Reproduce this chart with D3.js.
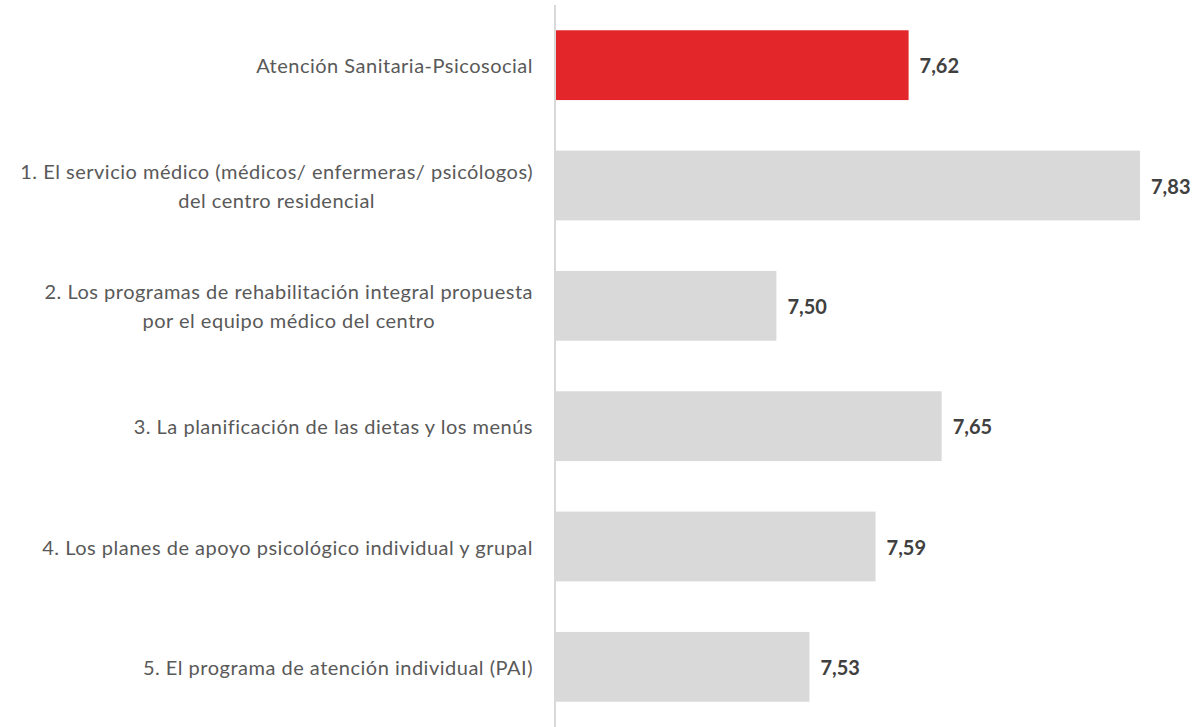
<!DOCTYPE html>
<html>
<head>
<meta charset="utf-8">
<script src="https://cdn.jsdelivr.net/npm/d3@7"></script>
<style>
  html, body { margin: 0; padding: 0; background: #ffffff; }
  svg { display: block; }
</style>
</head>
<body>
<svg id="chart" width="1201" height="727"></svg>
<script>
const categories = [
  ["Atención Sanitaria-Psicosocial"],
  ["1. El servicio médico (médicos/ enfermeras/ psicólogos)", "del centro residencial"],
  ["2. Los programas de rehabilitación integral propuesta", "por el equipo médico del centro"],
  ["3. La planificación de las dietas y los menús"],
  ["4. Los planes de apoyo psicológico individual y grupal"],
  ["5. El programa de atención individual (PAI)"]
];
const values = [7.62, 7.83, 7.50, 7.65, 7.59, 7.53];
const highlight = [true, false, false, false, false, false];
const axisDomain = [7.3, 7.83];

const svg = d3.select("#chart");
const x0 = 556, x1 = 1140;
const labelRight = 533;

const x = d3.scaleLinear().domain(axisDomain).range([x0, x1]);
const y = d3.scaleBand()
  .domain(d3.range(categories.length))
  .range([5, 727])
  .paddingInner(0.42)
  .paddingOuter(0.21);

const fmt = v => d3.format(".2f")(v).replace(".", ",");

// bars
svg.append("g").selectAll("rect")
  .data(values)
  .join("rect")
  .attr("x", x0)
  .attr("y", (d, i) => y(i))
  .attr("width", d => x(d) - x0)
  .attr("height", y.bandwidth())
  .attr("fill", (d, i) => highlight[i] ? "#E3262A" : "#D9D9D9");

// axis line
svg.append("line")
  .attr("x1", x0 - 1).attr("x2", x0 - 1)
  .attr("y1", 5).attr("y2", 727)
  .attr("stroke", "#D9D9D9")
  .attr("stroke-width", 2);

// value labels
svg.append("g").selectAll("text")
  .data(values)
  .join("text")
  .attr("x", d => x(d) + 11)
  .attr("y", (d, i) => y(i) + y.bandwidth() / 2)
  .attr("dominant-baseline", "central")
  .attr("font-family", "Lato, 'Open Sans', sans-serif")
  .attr("font-weight", "bold")
  .attr("font-size", 20)
  .attr("fill", "#404040")
  .text(d => fmt(d));

// category labels
const lineH = 29;
const cg = svg.append("g");
categories.forEach((lines, i) => {
  const cy = y(i) + y.bandwidth() / 2;
  const t = cg.append("text")
    .attr("font-family", "Lato, 'Open Sans', sans-serif")
    .attr("font-size", 20)
    .attr("letter-spacing", 0.5)
    .attr("fill", "#595959")
    .attr("text-anchor", "middle");
  const spans = lines.map((ln, k) => t.append("tspan")
    .attr("y", cy + (k - (lines.length - 1) / 2) * lineH)
    .attr("dominant-baseline", "central")
    .text(ln));
  const w = d3.max(spans, s => s.node().getComputedTextLength());
  spans.forEach(s => s.attr("x", labelRight - w / 2));
});
</script>
</body>
</html>
